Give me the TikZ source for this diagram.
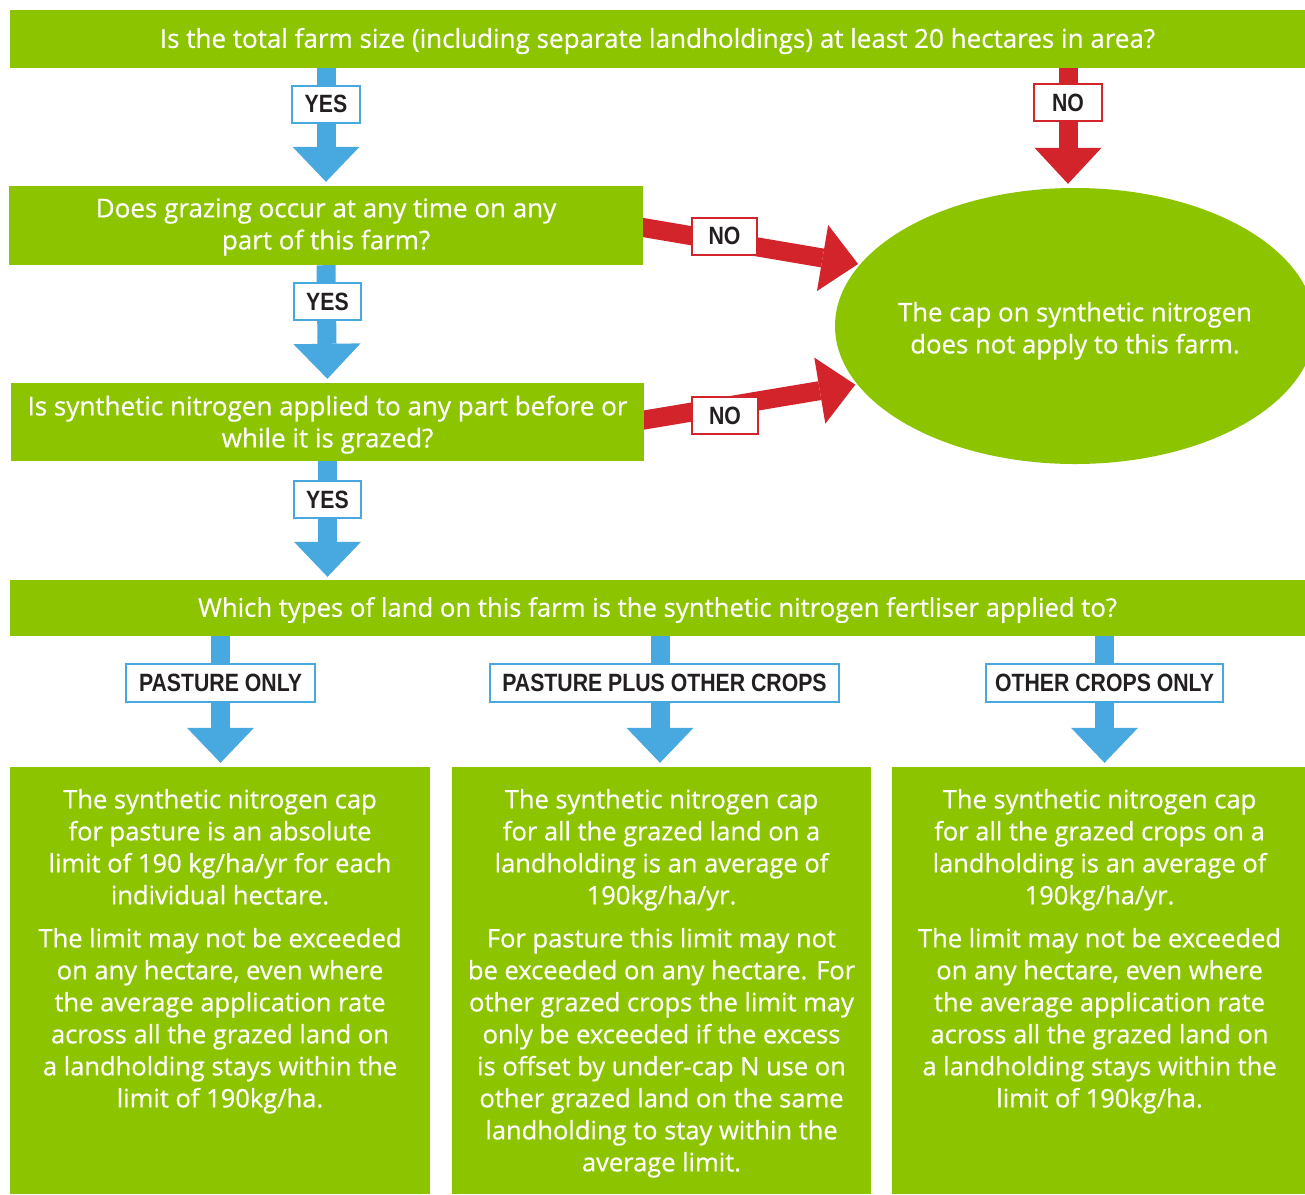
\documentclass[tikz,border=0pt]{standalone}
\usepackage{fontspec}
\setmainfont{Open Sans}[FakeBold=0.6]
\newfontfamily\lblfont{Liberation Sans}[FakeStretch=0.85]
\usetikzlibrary{arrows.meta,shapes.geometric}
\definecolor{fgreen}{HTML}{8DC400}
\definecolor{fblue}{HTML}{47A9E0}
\definecolor{fred}{HTML}{D3232B}
\definecolor{fdark}{HTML}{231F20}
\pgfdeclarelayer{bg}
\pgfsetlayers{bg,main}
\tikzset{
  gbox/.style={fill=fgreen, text=white, inner sep=0pt, align=center,
    font=\fontsize{26}{32}\selectfont},
  lbl/.style={fill=white, text=fdark, line width=2pt, inner sep=0pt,
    minimum height=37pt, font=\lblfont\bfseries\fontsize{25}{28}\selectfont},
  ylbl/.style={lbl, draw=fblue},
  nlbl/.style={lbl, draw=fred},
  barrow/.style={draw=fblue, line width=19pt,
    -{Triangle[length=35pt,width=67pt,line width=0pt]}},
  rarrow/.style={draw=fred, line width=19pt,
    -{Triangle[length=36pt,width=67pt,line width=0pt]}},
}
\newcommand{\boxtext}[1]{\parbox[c][427pt][t]{416pt}{\centering\fontsize{25.5}{32}\selectfont\vspace*{22pt}#1}}
\newcommand{\sinkby}[2]{\raisebox{-#1}[\height][\depth]{#2}}
\begin{document}
\begin{tikzpicture}[x=1pt,y=-1pt]
\useasboundingbox (0,0) rectangle (1305,1194);
\clip (0,0) rectangle (1305,1194);

% main boxes
\node[gbox, minimum width=1295pt, minimum height=58pt] (top) at (657.5,39)
  {\sinkby{2pt}{Is the total farm size (including separate landholdings) at least 20 hectares in area?}};
\node[gbox, minimum width=634pt, minimum height=79pt] (graze) at (326,225.5)
  {\sinkby{1.5pt}{\begin{tabular}{@{}c@{}}Does grazing occur at any time on any\\part of this farm?\end{tabular}}};
\node[gbox, minimum width=633pt, minimum height=78pt] (synth) at (327.5,422)
  {\sinkby{3pt}{\begin{tabular}{@{}c@{}}Is synthetic nitrogen applied to any part before or\\while it is grazed?\end{tabular}}};
\node[gbox, minimum width=1295pt, minimum height=56pt, font=\fontsize{25.7}{32}\selectfont] (types) at (657.5,608)
  {\sinkby{2pt}{Which types of land on this farm is the synthetic nitrogen fertliser applied to?}};
\node[gbox, ellipse, minimum width=480pt, minimum height=276pt, font=\fontsize{25.7}{32}\selectfont] (cap) at (1075,326)
  {\makebox[0pt]{\sinkby{5pt}{\begin{tabular}{@{}c@{}}The cap on synthetic nitrogen\\does not apply to this farm.\end{tabular}}}};

% bottom boxes
\node[gbox, minimum width=420pt, minimum height=427pt] (past) at (220,980.5)
  {\boxtext{The synthetic nitrogen cap\\for pasture is an absolute\\limit of 190 kg/ha/yr for each\\individual hectare.\\[11pt]
  The limit may not be exceeded\\on any hectare, even where\\the average application rate\\across all the grazed land on\\a landholding stays within the\\limit of 190kg/ha.}};
\node[gbox, minimum width=419pt, minimum height=427pt] (plus) at (661.5,980.5)
  {\boxtext{The synthetic nitrogen cap\\for all the grazed land on a\\landholding is an average of\\190kg/ha/yr.\\[11pt]
  For pasture this limit may not\\be exceeded on any hectare. For\\other grazed crops the limit may\\only be exceeded if the excess\\is offset by under-cap N use on\\other grazed land on the same\\landholding to stay within the\\average limit.}};
\node[gbox, minimum width=411pt, minimum height=427pt] (other) at (1099.5,980.5)
  {\boxtext{The synthetic nitrogen cap\\for all the grazed crops on a\\landholding is an average of\\190kg/ha/yr.\\[11pt]
  The limit may not be exceeded\\on any hectare, even where\\the average application rate\\across all the grazed land on\\a landholding stays within the\\limit of 190kg/ha.}};

% labels
\node[ylbl, minimum width=68pt] (y1) at (326,104) {YES};
\node[ylbl, minimum width=67pt] (y2) at (327.5,301.5) {YES};
\node[ylbl, minimum width=67pt] (y3) at (327.5,499.5) {YES};
\node[nlbl, minimum width=68pt] (n0) at (1068,102.5) {NO};
\node[nlbl, minimum width=65pt] (n1) at (724.5,236) {NO};
\node[nlbl, minimum width=66pt] (n2) at (725,415.5) {NO};
\node[ylbl, minimum width=189pt, minimum height=38pt] (c1) at (220.5,683) {PASTURE ONLY};
\node[ylbl, minimum width=349pt, minimum height=38pt] (c2) at (664.5,683) {PASTURE PLUS OTHER CROPS};
\node[ylbl, minimum width=237pt, minimum height=38pt] (c3) at (1104.5,683) {OTHER CROPS ONLY};

% connectors
\begin{pgfonlayer}{bg}
\fill[white] (0,0) rectangle (1305,1194);
\draw[barrow, shorten >=4pt] (graze.north |- top.south) -- (graze.north);
\draw[barrow, shorten >=4pt] (graze.south) -- (synth.north);
\draw[barrow, shorten >=3pt] (synth.south) -- (synth.south |- types.north);
\draw[rarrow, shorten >=4pt] (n0 |- top.south) -- (n0 |- cap.north);
\draw[rarrow, shorten >=2pt] ([xshift=-12pt]graze.east) -- (cap.164);
\draw[rarrow, shorten >=2pt] ([xshift=-12pt]synth.east) -- (cap.195);
\draw[barrow, shorten >=4pt] (c1 |- types.south) -- (c1 |- past.north);
\draw[barrow, shorten >=4pt] ([xshift=-1.5pt]plus.north |- types.south) -- ([xshift=-1.5pt]plus.north);
\draw[barrow, shorten >=4pt] (c3 |- types.south) -- (c3 |- other.north);
\end{pgfonlayer}
\end{tikzpicture}
\end{document}
